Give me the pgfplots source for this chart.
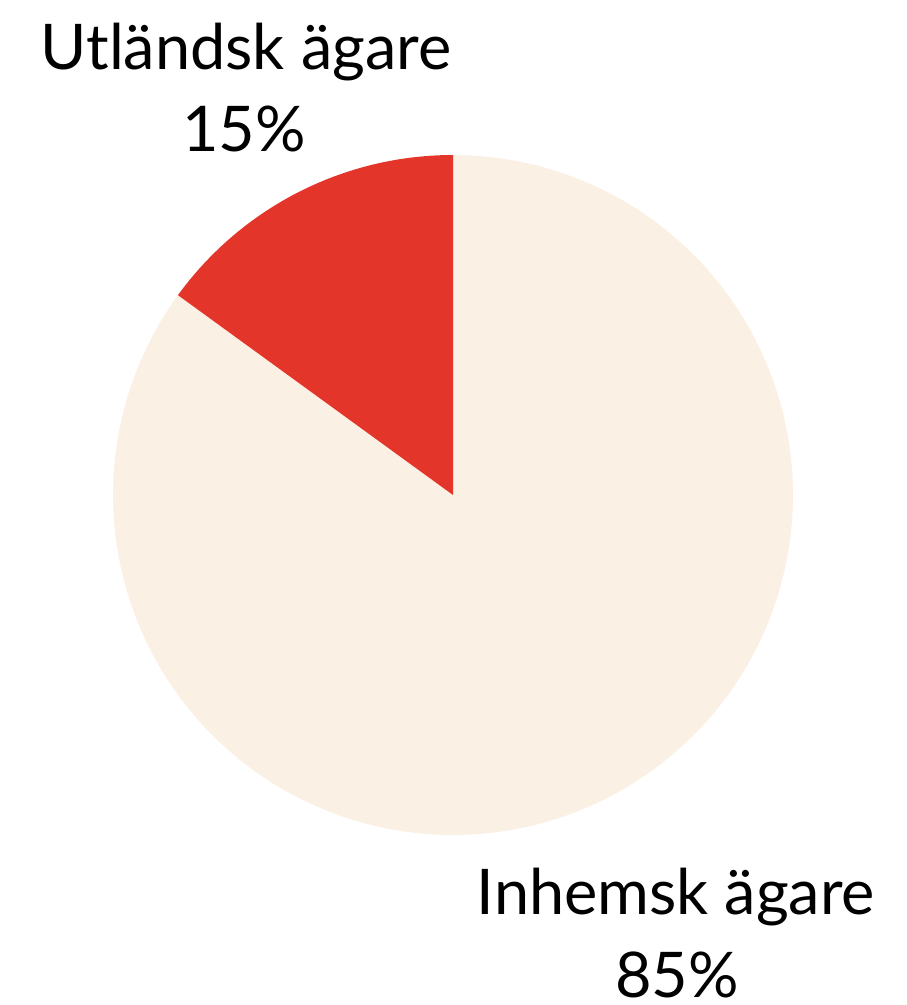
\documentclass[border=0pt]{standalone}
\usepackage{pgfplots}
\pgfplotsset{compat=1.18}
\usepackage{fontspec}
\setmainfont{Lato}
\definecolor{pieRed}{HTML}{E4352A}
\definecolor{pieCream}{HTML}{FAF0E4}
\begin{document}
\begin{tikzpicture}[x=1pt,y=1pt]
\useasboundingbox (0,0) rectangle (907,1005);
% shares in percent
\def\shareA{15}% Utländsk ägare
\def\shareB{85}% Inhemsk ägare
\pgfmathsetmacro{\startA}{90}
\pgfmathsetmacro{\endA}{90+3.6*\shareA}
\pgfmathsetmacro{\endB}{\endA+3.6*\shareB}
\begin{axis}[
  at={(113pt,170pt)}, anchor=south west,
  scale only axis, width=680pt, height=680pt,
  xmin=-1, xmax=1, ymin=-1, ymax=1,
  hide axis, clip=false,
]
\addplot[fill=pieCream, draw=none, domain=\endA:\endB, samples=300]
  ({cos(x)},{sin(x)}) -- (axis cs:0,0) -- cycle;
\addplot[fill=pieRed, draw=none, domain=\startA:\endA, samples=80]
  ({cos(x)},{sin(x)}) -- (axis cs:0,0) -- cycle;
\end{axis}
\node[anchor=base, font=\fontsize{63}{70}\selectfont, inner sep=0pt] at (246,935) {Utländsk ägare};
\node[anchor=base, font=\fontsize{63}{70}\selectfont, inner sep=0pt] at (244,853) {15\%};
\node[anchor=base, font=\fontsize{63}{70}\selectfont, inner sep=0pt] at (676,90) {Inhemsk ägare};
\node[anchor=base, font=\fontsize{63}{70}\selectfont, inner sep=0pt] at (677,8) {85\%};
\end{tikzpicture}
\end{document}
